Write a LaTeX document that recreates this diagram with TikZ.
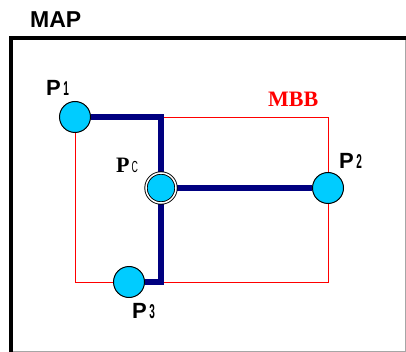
\documentclass[tikz,border=0pt]{standalone}
\usepackage{fontspec}
\setmainfont{Liberation Serif}
\setsansfont{Liberation Sans}
\usepackage{xcolor}
\usetikzlibrary{backgrounds}
\definecolor{sitecyan}{RGB}{0,204,255}
\definecolor{linknavy}{RGB}{0,0,128}
\newcommand{\ptidx}[1]{\hspace{2.5pt}\scalebox{0.5}[1]{\fontsize{20}{20}\selectfont #1}}

\begin{document}
\begin{tikzpicture}[x=1pt, y=-1pt,
  site/.style={circle, draw=black, line width=1pt, fill=sitecyan,
               minimum size=31pt, inner sep=0pt},
  hub/.style={circle, draw=black, line width=0.9pt, double=white,
              double distance=1.5pt, fill=sitecyan, minimum size=30pt, inner sep=0pt},
  lbl/.style={anchor=base west, inner sep=0pt, font=\fontsize{22}{22}\selectfont\sffamily\bfseries},
  mbb/.style={draw=red, line width=0.9pt},
  link/.style={draw=linknavy, line width=5.5pt}
]
  \useasboundingbox (0,0) rectangle (406,352);

  % Map frame
  \draw[line width=0.6pt, black!35] (405,38) -- (405,351.5) -- (11,351.5);
  \draw[line width=3.5pt] (11,352) -- (11,38) -- (406,38);

  % Nodes
  \node[site] (p1) at (75,117) {};
  \node[site] (p2) at (328,188) {};
  \node[site] (p3) at (129,282) {};
  \node[hub]  (pc) at (161,188) {};

  % Labels
  \node[lbl, font=\fontsize{23}{23}\selectfont\sffamily\bfseries] (map) at (30,28) {MAP};
  \node[lbl, text=red, font=\fontsize{22}{22}\selectfont\rmfamily\bfseries] (mbbl) at (268,107) {MBB};
  \node[lbl] (l1) at (46,96) {P\ptidx{1}};
  \node[lbl] (l2) at (339,169) {P\ptidx{2}};
  \node[lbl] (l3) at (132,318) {P\ptidx{3}};
  \node[lbl, font=\fontsize{22}{22}\selectfont\rmfamily\bfseries] (lc) at (116,173)
    {P\hspace{2pt}\scalebox{0.55}[1]{\fontsize{16}{16}\selectfont\sffamily\mdseries C}};

  % Paths
  \begin{scope}[on background layer]
    \draw[mbb] (p1.center) rectangle (p2.center |- p3.center);
    \draw[link] (p1) -| (pc);
    \draw[link] (pc) -- (p2);
    \draw[link] (pc) |- (p3);
  \end{scope}
\end{tikzpicture}
\end{document}
